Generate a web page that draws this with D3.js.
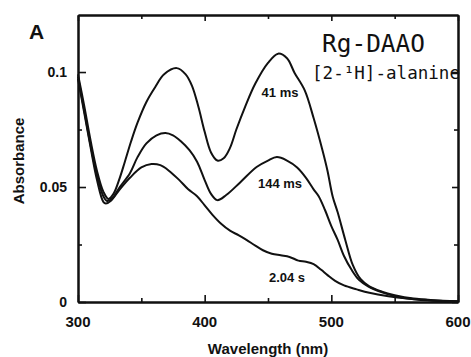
<!DOCTYPE html>
<html>
<head>
<meta charset="utf-8">
<script src="https://cdn.jsdelivr.net/npm/d3@7"></script>
<style>
  body { margin: 0; background: #fff; }
  svg text { fill: #111; }
</style>
</head>
<body>
<div id="chart"></div>
<script>
// wavelength (nm) / absorbance pairs
var wl41 = [300, 305, 310, 315, 320, 324, 328, 333, 337, 342, 347, 354, 361, 368, 378, 385, 390, 395, 400, 405, 410, 415, 420, 425, 432, 440, 450, 458, 465, 471, 479, 486, 493, 497, 501, 505, 511, 517, 523, 530, 540, 550, 565, 580, 600];
var abs41 = [0.099, 0.085, 0.070, 0.057, 0.048, 0.0448, 0.047, 0.054, 0.061, 0.070, 0.078, 0.087, 0.0935, 0.099, 0.1017, 0.099, 0.094, 0.085, 0.074, 0.065, 0.0615, 0.0625, 0.067, 0.075, 0.085, 0.095, 0.104, 0.108, 0.106, 0.0996, 0.092, 0.080, 0.066, 0.057, 0.046, 0.039, 0.027, 0.016, 0.010, 0.0068, 0.0045, 0.003, 0.0015, 0.0008, 0.0003];

var wl144 = [300, 305, 310, 315, 320, 323, 327, 333, 341, 347, 354, 362, 369, 375, 381, 388, 394, 400, 405, 410, 417, 428, 441, 450, 457, 465, 473, 480, 486, 490, 495, 500, 505, 510, 516, 522, 529, 540, 550, 565, 600];
var abs144 = [0.098, 0.083, 0.068, 0.055, 0.046, 0.0439, 0.045, 0.050, 0.056, 0.063, 0.069, 0.0725, 0.0735, 0.0725, 0.070, 0.066, 0.061, 0.053, 0.047, 0.0443, 0.0465, 0.052, 0.0587, 0.0615, 0.063, 0.0615, 0.0585, 0.054, 0.049, 0.046, 0.040, 0.033, 0.027, 0.020, 0.014, 0.0095, 0.0068, 0.0042, 0.0026, 0.0012, 0.0002];

var wl204 = [300, 305, 310, 315, 320, 322, 326, 333, 341, 350, 358, 365, 372, 380, 387, 394, 400, 406, 413, 420, 427, 433, 440, 446, 453, 460, 467, 474, 480, 486, 492, 497, 503, 510, 520, 530, 545, 560, 580, 600];
var abs204 = [0.097, 0.082, 0.067, 0.053, 0.0435, 0.0428, 0.044, 0.049, 0.054, 0.0585, 0.060, 0.0595, 0.057, 0.053, 0.049, 0.046, 0.042, 0.038, 0.034, 0.031, 0.029, 0.027, 0.0245, 0.0225, 0.021, 0.0203, 0.0196, 0.018, 0.0175, 0.0165, 0.014, 0.0117, 0.0092, 0.0072, 0.0055, 0.004, 0.0025, 0.0015, 0.0007, 0.0002];

var curveNames = ["41 ms", "144 ms", "2.04 s"];
var xMajor = [300, 400, 500, 600];
var xMinor = [350, 450, 550];
var yMajor = [0, 0.05, 0.1];
var yMinor = [0.025, 0.075];
var yLabels = ["0", "0.05", "0.1"];

var width = 471;
var height = 357;

var x = d3.scaleLinear().domain([300, 600]).range([78, 458]);
var y = d3.scaleLinear().domain([0, 0.1248]).range([302, 15]);

var svg = d3.select("#chart")
  .append("svg")
  .attr("width", width)
  .attr("height", height)
  .style("font-family", "'Liberation Sans', Arial, sans-serif");

// frame with inward ticks on all four sides
function addAxis(axis, tx, ty) {
  var g = svg.append("g")
    .attr("transform", "translate(" + tx + "," + ty + ")")
    .call(axis);
  g.selectAll("text").remove();
  g.select(".domain").attr("stroke", "#111").attr("stroke-width", 2);
  g.selectAll(".tick line").attr("stroke", "#111").attr("stroke-width", 1.6);
  return g;
}

addAxis(d3.axisBottom(x).tickValues(xMajor).tickSizeInner(-7).tickSizeOuter(0), 0, 302);
addAxis(d3.axisBottom(x).tickValues(xMinor).tickSizeInner(-4).tickSizeOuter(0), 0, 302);
addAxis(d3.axisTop(x).tickValues(xMajor).tickSizeInner(-6).tickSizeOuter(0), 0, 15);
addAxis(d3.axisTop(x).tickValues(xMinor).tickSizeInner(-4).tickSizeOuter(0), 0, 15);
addAxis(d3.axisLeft(y).tickValues(yMajor).tickSizeInner(-8).tickSizeOuter(0), 78, 0);
addAxis(d3.axisLeft(y).tickValues(yMinor).tickSizeInner(-4).tickSizeOuter(0), 78, 0);
addAxis(d3.axisRight(y).tickValues(yMajor).tickSizeInner(-6).tickSizeOuter(0), 458, 0);
addAxis(d3.axisRight(y).tickValues(yMinor).tickSizeInner(-4).tickSizeOuter(0), 458, 0);

// tick labels
svg.selectAll("text.xlab")
  .data(xMajor)
  .enter()
  .append("text")
  .attr("class", "xlab")
  .attr("x", function(d){ return x(d); })
  .attr("y", 327)
  .attr("text-anchor", "middle")
  .style("font-size", "15px")
  .style("font-weight", "bold")
  .text(function(d){ return d; });

svg.selectAll("text.ylab")
  .data(yMajor)
  .enter()
  .append("text")
  .attr("class", "ylab")
  .attr("x", 67)
  .attr("y", function(d){ return y(d) + 5; })
  .attr("text-anchor", "end")
  .style("font-size", "14px")
  .style("font-weight", "bold")
  .text(function(d, i){ return yLabels[i]; });

// axis titles
svg.append("text")
  .attr("x", 268)
  .attr("y", 354)
  .attr("text-anchor", "middle")
  .style("font-size", "15px")
  .style("font-weight", "bold")
  .text("Wavelength (nm)");

svg.append("text")
  .attr("transform", "translate(24,161) rotate(-90)")
  .attr("text-anchor", "middle")
  .style("font-size", "15px")
  .style("font-weight", "bold")
  .text("Absorbance");

svg.append("text")
  .attr("x", 29)
  .attr("y", 39)
  .style("font-size", "21px")
  .style("font-weight", "bold")
  .text("A");

// spectra
var series = [
  { wl: wl41, ab: abs41 },
  { wl: wl144, ab: abs144 },
  { wl: wl204, ab: abs204 }
];

var line = d3.line()
  .x(function(d){ return x(d[0]); })
  .y(function(d){ return y(d[1]); })
  .curve(d3.curveCatmullRom.alpha(0.5));

svg.selectAll("path.spec")
  .data(series)
  .enter()
  .append("path")
  .attr("class", "spec")
  .attr("d", function(s){ return line(d3.zip(s.wl, s.ab)); })
  .attr("fill", "none")
  .attr("stroke", "#111")
  .attr("stroke-width", 2);

// curve labels
var labelPos = [[280, 97], [280, 188], [287, 282]];
svg.selectAll("text.clab")
  .data(curveNames)
  .enter()
  .append("text")
  .attr("class", "clab")
  .attr("x", function(d, i){ return labelPos[i][0]; })
  .attr("y", function(d, i){ return labelPos[i][1]; })
  .attr("text-anchor", "middle")
  .style("font-size", "13px")
  .style("font-weight", "bold")
  .text(function(d){ return d; });

// title block
svg.append("text")
  .attr("x", 322)
  .attr("y", 52)
  .attr("textLength", 103)
  .attr("lengthAdjust", "spacingAndGlyphs")
  .style("font-family", "'DejaVu Sans Mono', monospace")
  .style("font-size", "24px")
  .text("Rg-DAAO");

svg.append("text")
  .attr("x", 312)
  .attr("y", 79)
  .attr("textLength", 148)
  .attr("lengthAdjust", "spacingAndGlyphs")
  .style("font-family", "'DejaVu Sans Mono', monospace")
  .style("font-size", "17px")
  .text("[2-\u00b9H]-alanine");
</script>
</body>
</html>
